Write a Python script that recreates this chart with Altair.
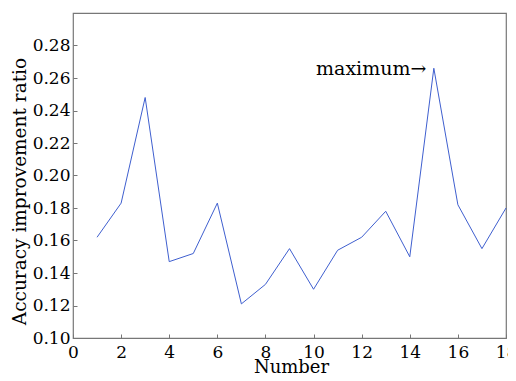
import altair as alt
import pandas as pd

numbers = list(range(1, 19))
ratios = [0.162, 0.183, 0.248, 0.147, 0.152, 0.183, 0.121, 0.133, 0.155,
          0.130, 0.154, 0.162, 0.178, 0.150, 0.266, 0.182, 0.155, 0.180]
x_ticks = list(range(0, 19, 2))
y_ticks = [0.10, 0.12, 0.14, 0.16, 0.18, 0.20, 0.22, 0.24, 0.26, 0.28]
note_text = ["maximum\u2192"]
note_x = [14.69]
note_y = [0.2655]

df = pd.DataFrame({"Number": numbers, "Ratio": ratios})
note = pd.DataFrame({"x": note_x, "y": note_y, "t": note_text})

FONT = "DejaVu Serif"
GRAY = "#777777"

xs = alt.Scale(domain=[0, 18], nice=False, zero=False)
ys = alt.Scale(domain=[0.10, 0.30], nice=False, zero=False)

line = alt.Chart(df).mark_line(color="#3f5fcf", strokeWidth=1).encode(
    x=alt.X("Number:Q", scale=xs,
            axis=alt.Axis(values=x_ticks, format="d", title="Number",
                          tickCount=30,
                          labelPadding=10, titleX=218, titleY=34,
                          labelOverlap=False, labelFlush=False,
                          titleAlign="center", titleBaseline="alphabetic")),
    y=alt.Y("Ratio:Q", scale=ys,
            axis=alt.Axis(values=y_ticks, format=".2f",
                          title="Accuracy improvement ratio",
                          tickCount=30,
                          labelOverlap=False, labelFlush=False,
                          labelPadding=7, titleX=-54, titleY=178,
                          titleAngle=-90, titleAlign="center",
                          titleBaseline="middle", titleFontSize=18.5)),
)

text = alt.Chart(note).mark_text(font=FONT, fontSize=19, align="right",
                                 baseline="middle", color="black").encode(
    x=alt.X("x:Q", scale=xs),
    y=alt.Y("y:Q", scale=ys),
    text="t:N",
)

chart = (line + text).properties(
    width=433, height=325,
    autosize=alt.AutoSizeParams(type="none"),
    padding={"left": 65, "top": 5, "right": 2, "bottom": 35},
).configure_view(
    stroke=GRAY, strokeWidth=1.2
).configure_axis(
    domain=False, grid=False,
    tickColor=GRAY, tickSize=alt.ExprRef("-4"), tickWidth=1,
    labelFont=FONT, labelFontSize=17, labelColor="black",
    labelBound=False,
    titleFont=FONT, titleFontSize=18, titleColor="black",
    titleFontWeight="normal",
)

chart.save("out.html", embed_options={"renderer": "svg", "actions": False})
